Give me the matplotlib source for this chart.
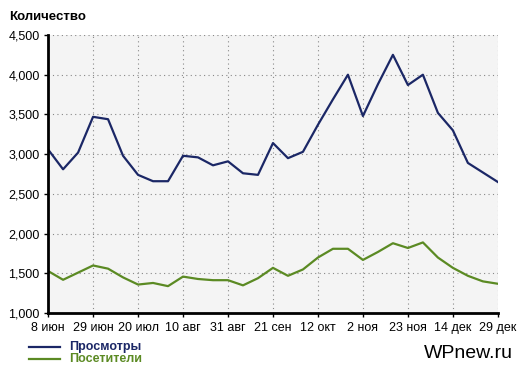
import matplotlib
matplotlib.use("Agg")
import matplotlib.pyplot as plt
from matplotlib.ticker import FuncFormatter

# Данные (еженедельно)
tick_labels = ["8 июн", "29 июн", "20 июл", "10 авг", "31 авг", "21 сен",
               "12 окт", "2 ноя", "23 ноя", "14 дек", "29 дек"]
views = [3060, 2810, 3020, 3470, 3440, 2980, 2740, 2660, 2660, 2980, 2960,
         2860, 2910, 2760, 2740, 3140, 2950, 3030, 3370, 3690, 4000, 3480,
         3880, 4250, 3870, 4000, 3520, 3300, 2890, 2770, 2650]
visitors = [1530, 1420, 1510, 1600, 1560, 1450, 1360, 1380, 1340, 1460, 1430,
            1415, 1415, 1350, 1440, 1570, 1470, 1550, 1700, 1810, 1810, 1670,
            1770, 1880, 1820, 1890, 1700, 1570, 1470, 1400, 1370]

blue = "#1b2766"
green = "#5b8a23"

plt.rcParams["font.family"] = ["Liberation Sans", "DejaVu Sans"]

fig = plt.figure(figsize=(5.17, 3.68), dpi=100)
ax = fig.add_axes([0.093, 0.149, 0.870, 0.756])
ax.set_facecolor("#f4f4f4")

x = list(range(len(views)))
ax.plot(x, views, color=blue, lw=1.6)
ax.plot(x, visitors, color=green, lw=1.6)

ax.set_xlim(0, len(views) - 1)
ax.set_ylim(1000, 4500)
ax.set_xticks(range(0, len(views), 3))
ax.set_xticklabels(tick_labels)
ax.set_yticks(range(1000, 4501, 500))
ax.yaxis.set_major_formatter(FuncFormatter(lambda v, p: f"{int(v):,}"))

ax.grid(True, color="#888888", linestyle=(0, (1, 3)), lw=0.8)
for s in ["top", "right"]:
    ax.spines[s].set_visible(False)
for s in ["left", "bottom"]:
    ax.spines[s].set_linewidth(2)
    ax.spines[s].set_color("black")
ax.tick_params(length=3, width=1, labelsize=9, pad=3, colors="black")

fig.text(0.018, 0.953, "Количество", fontsize=9.5, fontweight="bold", va="center")

# Легенда
fig.add_artist(plt.Line2D([0.056, 0.116], [0.057, 0.057], color=blue, lw=1.6))
fig.add_artist(plt.Line2D([0.056, 0.116], [0.025, 0.025], color=green, lw=1.6))
fig.text(0.133, 0.057, "Просмотры", color=blue, fontsize=9, fontweight="bold", va="center")
fig.text(0.133, 0.025, "Посетители", color=green, fontsize=9, fontweight="bold", va="center")

fig.text(0.993, 0.04, "WPnew.ru", fontsize=14, ha="right", va="center")

fig.savefig("out.png", dpi=100)
